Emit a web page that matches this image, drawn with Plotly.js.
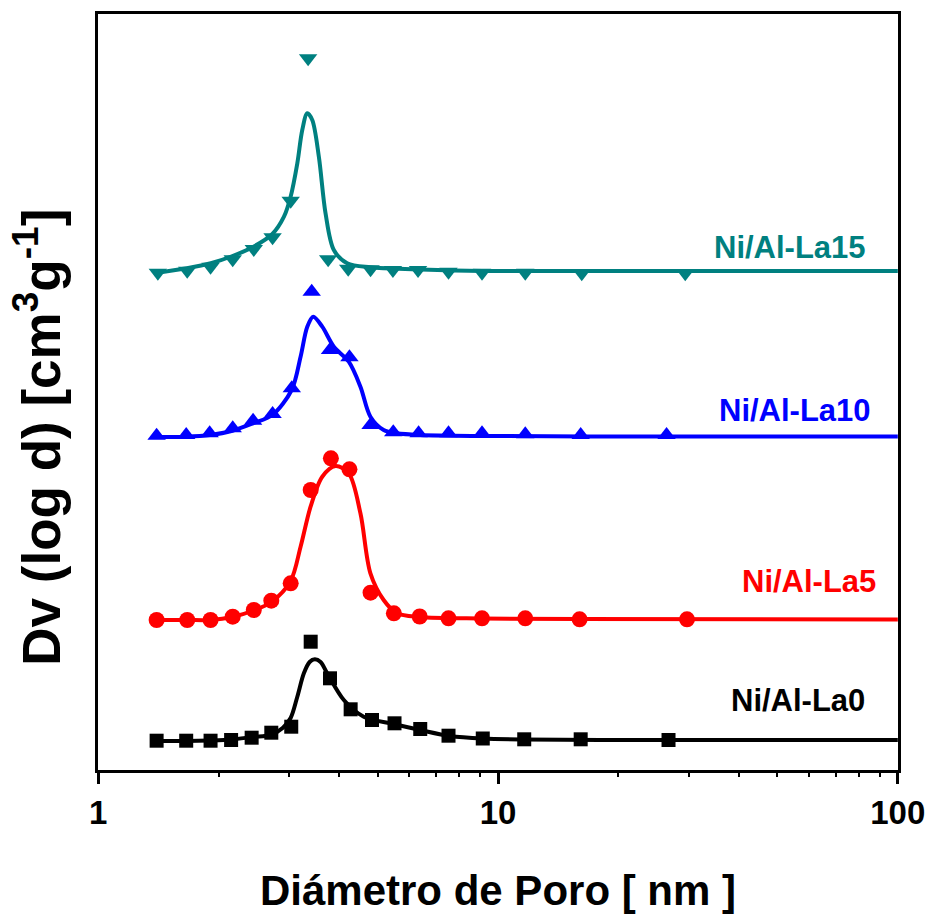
<!DOCTYPE html>
<html>
<head>
<meta charset="utf-8">
<script src="https://cdn.plot.ly/plotly-3.0.1.min.js"></script>
<style>html,body{margin:0;padding:0;background:#fff;}#chart{width:928px;height:923px;}</style>
</head>
<body>
<div id="chart"></div>
<script>
// ---- Data (pore diameter in nm, Dv in stacked arbitrary units) ----
// Measured points (markers)
const la0_d  = [1.40, 1.66, 1.91, 2.15, 2.42, 2.71, 3.04, 3.40, 3.80, 4.28, 4.84, 5.51, 6.39, 7.52, 9.16, 11.63, 16.1, 26.7];
const la0_dv = [0.293, 0.293, 0.293, 0.30, 0.323, 0.373, 0.433, 1.283, 0.917, 0.607, 0.50, 0.467, 0.41, 0.343, 0.315, 0.307, 0.307, 0.30];

const la5_d  = [1.40, 1.67, 1.91, 2.17, 2.45, 2.71, 3.03, 3.40, 3.82, 4.25, 4.80, 5.49, 6.37, 7.52, 9.12, 11.7, 16.0, 29.7];
const la5_dv = [1.50, 1.50, 1.50, 1.533, 1.60, 1.693, 1.867, 2.80, 3.117, 3.007, 1.773, 1.567, 1.535, 1.517, 1.517, 1.517, 1.507, 1.507];

const la10_d  = [1.40, 1.66, 1.90, 2.17, 2.44, 2.73, 3.05, 3.42, 3.80, 4.25, 4.80, 5.47, 6.33, 7.52, 9.12, 11.7, 16.1, 26.4];
const la10_dv = [3.343, 3.35, 3.367, 3.417, 3.493, 3.56, 3.817, 4.783, 4.20, 4.127, 3.45, 3.377, 3.367, 3.367, 3.367, 3.357, 3.35, 3.35];

const la15_d  = [1.41, 1.67, 1.91, 2.17, 2.45, 2.73, 3.03, 3.35, 3.76, 4.22, 4.80, 5.46, 6.31, 7.52, 9.12, 11.7, 16.2, 29.4];
const la15_dv = [4.973, 4.993, 5.033, 5.107, 5.21, 5.327, 5.693, 7.117, 5.107, 5.013, 5.007, 5.00, 5.00, 4.983, 4.973, 4.973, 4.967, 4.967];

// Fitted curves
const la0_fit_d  = [1.395, 1.658, 1.902, 2.159, 2.435, 2.701, 2.893, 3.029, 3.148, 3.269, 3.379, 3.483, 3.599, 3.740, 4.115, 4.615, 5.482, 6.392, 7.590, 9.175, 11.61, 17.96, 100];
const la0_fit_dv = [0.29, 0.29, 0.295, 0.305, 0.33, 0.35, 0.42, 0.52, 0.733, 0.967, 1.08, 1.107, 1.08, 0.967, 0.70, 0.533, 0.46, 0.40, 0.34, 0.315, 0.305, 0.30, 0.30];

const la5_fit_d  = [1.395, 1.667, 1.913, 2.167, 2.445, 2.712, 3.029, 3.208, 3.398, 3.634, 3.923, 4.234, 4.528, 4.796, 5.176, 5.590, 6.366, 9.123, 16.02, 100];
const la5_fit_dv = [1.50, 1.50, 1.50, 1.53, 1.595, 1.68, 1.89, 2.233, 2.633, 2.933, 3.04, 2.967, 2.567, 1.967, 1.70, 1.567, 1.53, 1.515, 1.51, 1.505];

const la10_fit_d  = [1.395, 1.658, 1.902, 2.167, 2.439, 2.727, 3.047, 3.208, 3.334, 3.451, 3.634, 3.885, 4.234, 4.528, 4.796, 5.176, 5.590, 6.392, 9.123, 17.96, 100];
const la10_fit_dv = [3.33, 3.333, 3.35, 3.393, 3.467, 3.55, 3.80, 4.133, 4.433, 4.533, 4.433, 4.233, 4.083, 3.833, 3.533, 3.40, 3.367, 3.35, 3.34, 3.335, 3.335];

const la15_fit_d  = [1.409, 1.667, 1.913, 2.167, 2.445, 2.727, 2.915, 3.029, 3.148, 3.239, 3.334, 3.431, 3.564, 3.704, 3.885, 4.195, 4.796, 6.272, 9.123, 100];
const la15_fit_dv = [4.973, 5.017, 5.067, 5.14, 5.233, 5.36, 5.533, 5.733, 6.067, 6.40, 6.567, 6.50, 6.133, 5.567, 5.20, 5.067, 5.027, 5.007, 4.99, 4.99];

const seriesNames = ['Ni/Al-La0', 'Ni/Al-La5', 'Ni/Al-La10', 'Ni/Al-La15'];
const xTickVals = [1, 10, 100];
const xTickText = ['1', '10', '100'];
const xMinorVals = [2,3,4,5,6,7,8,9,20,30,40,50,60,70,80,90];

// ---- Styling ----
const FONT = '"Liberation Sans", Arial, Helvetica, sans-serif';
const colors = ['#000000', '#FF0000', '#0000FF', '#008080'];
const symbols = ['square', 'circle', 'triangle-up', 'triangle-down'];
const msize = [14, 16, 16, 16];

const markerSets = [[la0_d, la0_dv], [la5_d, la5_dv], [la10_d, la10_dv], [la15_d, la15_dv]];
const fitSets = [[la0_fit_d, la0_fit_dv], [la5_fit_d, la5_fit_dv], [la10_fit_d, la10_fit_dv], [la15_fit_d, la15_fit_dv]];

const traces = [];
fitSets.forEach((s, i) => {
  traces.push({x: s[0], y: s[1], mode: 'lines', type: 'scatter', name: seriesNames[i] + ' fit',
    line: {color: colors[i], width: 4, shape: 'spline', smoothing: 0.9}, showlegend: false, hoverinfo: 'skip'});
});
markerSets.forEach((s, i) => {
  traces.push({x: s[0], y: s[1], mode: 'markers', type: 'scatter', name: seriesNames[i],
    marker: {color: colors[i], symbol: symbols[i], size: msize[i], line: {width: 0}}, showlegend: false});
});

const labelPos = [[0.8746, 0.0913], [0.8884, 0.25], [0.8709, 0.4749], [0.8646, 0.6905]];
const annotations = seriesNames.map((n, i) => ({
  text: '<b>' + n + '</b>', xref: 'paper', yref: 'paper', x: labelPos[i][0], y: labelPos[i][1],
  xanchor: 'center', yanchor: 'middle', showarrow: false,
  font: {family: FONT, size: 31, color: colors[i]}
}));
// y-axis title (placed as rotated annotation to match the reference position)
annotations.push({
  text: '<b>Dv (log d) [cm<sup>3</sup>g<sup>-1</sup>]</b>', xref: 'paper', yref: 'paper',
  x: -0.0754, y: 0.4405, xanchor: 'center', yanchor: 'middle', textangle: -90, showarrow: false,
  font: {family: FONT, size: 53, color: '#000'}
});

const layout = {
  width: 928, height: 923,
  margin: {l: 98, r: 30, t: 14, b: 153},
  paper_bgcolor: '#fff', plot_bgcolor: '#fff',
  showlegend: false,
  xaxis: {
    type: 'log', range: [-0.0005, 2.0005],
    tickmode: 'array', tickvals: xTickVals, ticktext: xTickText,
    ticks: 'outside', ticklen: 11, tickwidth: 3, tickcolor: '#000',
    minor: {tickmode: 'array', tickvals: xMinorVals, ticks: 'outside', ticklen: 4, tickwidth: 2, tickcolor: '#000', showgrid: false},
    showline: true, linewidth: 3, linecolor: '#000', mirror: true,
    showgrid: false, zeroline: false,
    tickfont: {family: FONT, size: 33, color: '#000', weight: 'bold'},
    title: {text: '<b>Diámetro de Poro [ nm ]</b>', font: {family: FONT, size: 42, color: '#000'}, standoff: 47}
  },
  yaxis: {
    range: [0, 7.56],
    showticklabels: false, ticks: '',
    showline: true, linewidth: 3, linecolor: '#000', mirror: true,
    showgrid: false, zeroline: false
  },
  annotations: annotations
};

Plotly.newPlot('chart', traces, layout, {displayModeBar: false, staticPlot: true});
</script>
</body>
</html>
